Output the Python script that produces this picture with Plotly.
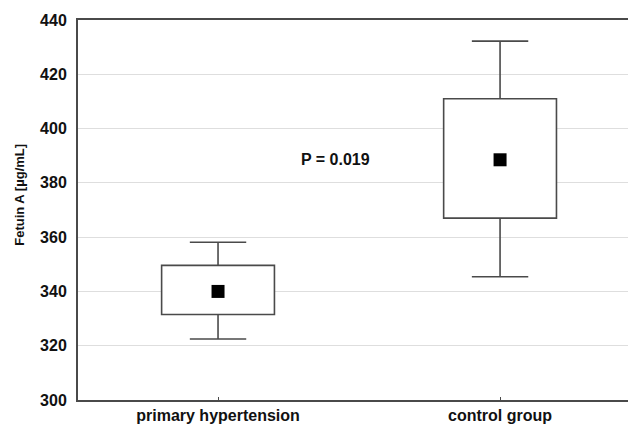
import plotly.graph_objects as go

categories = ["primary hypertension", "control group"]
means = [340.0, 388.5]
box_low = [331.5, 367.0]
box_high = [349.6, 411.0]
whisker_low = [322.5, 345.4]
whisker_high = [358.1, 432.2]
p_text = "P = 0.019"

xpos = [0, 1]
line_col = "#4a4a4a"
FONT = "Liberation Sans, Arial, sans-serif"
BOX_W = 0.4
CAP_HALF = 0.1

fig = go.Figure()

# boxes
fig.add_trace(go.Bar(
    x=xpos, base=box_low, y=[h - l for h, l in zip(box_high, box_low)],
    width=BOX_W, marker=dict(color="white", line=dict(color=line_col, width=1.6)),
    showlegend=False, hoverinfo="skip"))
# upper whiskers: stem (error_y down to the box) + cap (error_x)
fig.add_trace(go.Scatter(
    x=xpos, y=whisker_high, mode="markers", marker=dict(size=1, opacity=0),
    error_y=dict(type="data", symmetric=False, array=[0, 0],
                 arrayminus=[w - b for w, b in zip(whisker_high, box_high)],
                 color=line_col, thickness=1.6, width=0),
    error_x=dict(type="constant", value=CAP_HALF, color=line_col, thickness=1.6, width=0),
    showlegend=False, hoverinfo="skip"))
# lower whiskers
fig.add_trace(go.Scatter(
    x=xpos, y=whisker_low, mode="markers", marker=dict(size=1, opacity=0),
    error_y=dict(type="data", symmetric=False,
                 array=[b - w for b, w in zip(box_low, whisker_low)], arrayminus=[0, 0],
                 color=line_col, thickness=1.6, width=0),
    error_x=dict(type="constant", value=CAP_HALF, color=line_col, thickness=1.6, width=0),
    showlegend=False, hoverinfo="skip"))
# means
fig.add_trace(go.Scatter(
    x=xpos, y=means, mode="markers",
    marker=dict(symbol="square", size=13, color="black", line=dict(width=0)),
    showlegend=False))

fig.add_annotation(x=0.417, y=388.5, text="<b>%s</b>" % p_text, showarrow=False,
                   font=dict(family=FONT, size=16, color="#111"))
fig.add_annotation(xref="paper", yref="paper", x=-0.104, y=0.54,
                   xanchor="center", yanchor="middle",
                   text="<b>Fetuin A [µg/mL]</b>", textangle=-90, showarrow=False,
                   font=dict(family=FONT, size=13, color="#111"))

# page body has an 8px default margin, so the figure is sized/offset to compensate
fig.update_layout(
    width=628, height=416,
    margin=dict(l=70, r=0, t=12, b=24, autoexpand=False),
    paper_bgcolor="white", plot_bgcolor="white",
    font=dict(family=FONT, color="#111"),
)
fig.update_xaxes(
    range=[-0.4965, 1.482], tickvals=xpos,
    ticktext=["<b>%s</b>" % c for c in categories],
    tickfont=dict(size=16, family=FONT, color="#111"),
    showgrid=False, zeroline=False, automargin=False,
    showline=True, linecolor=line_col, linewidth=2, mirror=True,
    ticks="inside", ticklen=3, tickcolor=line_col, tickwidth=1,
)
fig.update_yaxes(
    range=[300, 440], tickvals=[300, 320, 340, 360, 380, 400, 420, 440],
    ticktext=["<b>%d</b>" % v for v in [300, 320, 340, 360, 380, 400, 420, 440]],
    tickfont=dict(size=16, family=FONT, color="#111"),
    showgrid=True, gridcolor="#dedede", gridwidth=1, zeroline=False, automargin=False,
    showline=True, linecolor=line_col, linewidth=2,
    ticks="", ticklabelstandoff=6,
)

fig.write_html("out.html")
